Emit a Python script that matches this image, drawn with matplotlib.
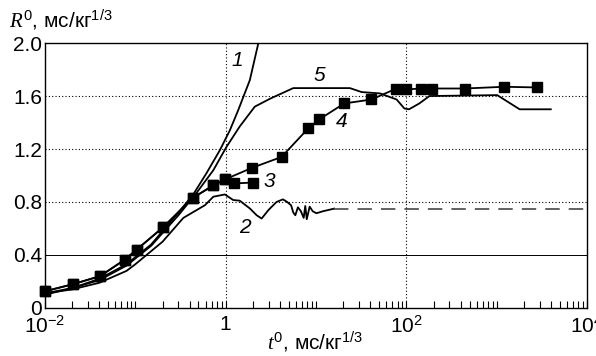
import numpy as np
import matplotlib
matplotlib.use("Agg")
import matplotlib.pyplot as plt
from matplotlib.ticker import LogLocator, FixedLocator, FixedFormatter, NullFormatter

plt.rcParams['font.family'] = ['Liberation Sans', 'DejaVu Sans']
plt.rcParams['mathtext.fontset'] = 'custom'
plt.rcParams['mathtext.rm'] = 'Liberation Sans'
plt.rcParams['mathtext.it'] = 'Liberation Serif:italic'

# curve 1
t1 = [0.01, 0.02, 0.04, 0.08, 0.15, 0.3, 0.44, 0.61, 0.86, 1.11, 1.37, 1.85, 2.3, 2.45]
r1 = [0.10, 0.15, 0.22, 0.33, 0.48, 0.72, 0.86, 1.015, 1.19, 1.34, 1.49, 1.72, 2.0, 2.08]

# curve 2 (solid part, then dashed asymptote)
t2 = [0.01, 0.02, 0.04, 0.08, 0.1, 0.2, 0.34, 0.59, 0.73, 0.98, 1.21, 1.43, 1.86,
      2.2, 2.5, 2.98, 3.65, 4.3, 4.8, 5.3, 5.6, 5.9, 6.3, 6.8, 7.3, 7.6, 7.9, 8.5,
      9.2, 10.1, 11.9, 15.9]
r2 = [0.11, 0.14, 0.19, 0.28, 0.33, 0.50, 0.68, 0.776, 0.84, 0.857, 0.815, 0.81, 0.75,
      0.70, 0.675, 0.74, 0.80, 0.82, 0.80, 0.775, 0.72, 0.70, 0.76, 0.73, 0.68, 0.77,
      0.67, 0.765, 0.73, 0.715, 0.73, 0.75]
t2_dash = [15.9, 1e4]
r2_dash = [0.75, 0.75]

# curve 3 (markers)
t3 = [0.01, 0.0206, 0.0406, 0.0767, 0.1033, 0.2037, 0.4305, 0.727, 0.98, 1.24, 2.01]
r3 = [0.126, 0.18, 0.24, 0.365, 0.44, 0.61, 0.83, 0.925, 0.97, 0.94, 0.947]

# curve 4 (markers)
t4 = [0.01, 0.0206, 0.0406, 0.0767, 0.1033, 0.2037, 0.4305, 0.727, 0.98, 1.94, 4.15,
      8.18, 10.8, 20.5, 41.1, 77.7, 98.4, 146.8, 194, 443, 1205, 2792]
r4 = [0.126, 0.18, 0.24, 0.365, 0.44, 0.61, 0.83, 0.925, 0.97, 1.057, 1.14,
      1.355, 1.423, 1.544, 1.574, 1.657, 1.65, 1.657, 1.657, 1.657, 1.67, 1.665]

# curve 5
t5 = [0.01, 0.02, 0.04, 0.08, 0.15, 0.3, 0.47, 0.73, 1.02, 1.43, 2.1, 3.1, 5.6, 23.7,
      32, 51, 78, 95, 107, 139, 180, 1012, 1794, 3967]
r5 = [0.11, 0.15, 0.21, 0.32, 0.47, 0.70, 0.864, 1.04, 1.216, 1.37, 1.52, 1.58, 1.66, 1.66,
      1.63, 1.62, 1.574, 1.506, 1.50, 1.544, 1.60, 1.607, 1.50, 1.50]

labels = ["1", "2", "3", "4", "5"]
label_pos = [(1.36, 1.87), (1.63, 0.61), (3.08, 0.957), (19.3, 1.41), (11.0, 1.758)]

fig = plt.figure(figsize=(5.96, 3.56), dpi=100)
ax = fig.add_axes([0.0755, 0.135, 0.9095, 0.744])

lw = 1.3
ax.plot(t1, r1, color="black", lw=lw)
ax.plot(t2, r2, color="black", lw=lw)
ax.plot(t2_dash, r2_dash, color="#555555", lw=lw, dashes=(8, 5))
ax.plot(t5, r5, color="black", lw=lw)
ax.plot(t4, r4, color="black", lw=lw, marker="s", markersize=7.5, clip_on=False)
ax.plot(t3, r3, color="black", lw=lw, marker="s", markersize=7.5, clip_on=False)

for lab, (x, y) in zip(labels, label_pos):
    ax.text(x, y, lab, fontsize=15, style="italic", ha="center", va="center")

ax.set_xscale("log")
ax.set_xlim(0.01, 1e4)
ax.set_ylim(0, 2.0)

# grid lines
for x in [1, 100]:
    ax.axvline(x, color="black", lw=0.8, ls=(0, (1, 2)))
for y in [0.8, 1.2, 1.6]:
    ax.axhline(y, color="black", lw=0.8, ls=(0, (1, 2)))
ax.axhline(0.4, color="black", lw=0.7)

ax.xaxis.set_major_locator(FixedLocator([0.01, 1, 100, 1e4]))
ax.xaxis.set_major_formatter(FixedFormatter([r"$\mathregular{10^{-2}}$", "1",
                                             r"$\mathregular{10^{2}}$",
                                             r"$\mathregular{10^{4}}$"]))
ax.xaxis.set_minor_locator(LogLocator(base=10, subs=np.arange(1, 10), numticks=20))
ax.xaxis.set_minor_formatter(NullFormatter())
ax.tick_params(axis="x", which="both", direction="in", length=5, width=0.8,
               labelsize=15, pad=5)

ax.set_yticks([0, 0.4, 0.8, 1.2, 1.6, 2.0])
ax.set_yticklabels(["0", "0.4", "0.8", "1.2", "1.6", "2.0"])
ax.tick_params(axis="y", length=0, labelsize=15, pad=2)

for s in ax.spines.values():
    s.set_linewidth(1.0)

fig.text(0.015, 0.925, r"$R^{\mathrm{0}}$, мс/кг$^{\mathrm{1/3}}$", fontsize=15,
         va="baseline")
fig.text(0.448, 0.02, r"$t^{\mathrm{0}}$, мс/кг$^{\mathrm{1/3}}$", fontsize=15,
         va="baseline")

fig.savefig("out.png", dpi=100)
